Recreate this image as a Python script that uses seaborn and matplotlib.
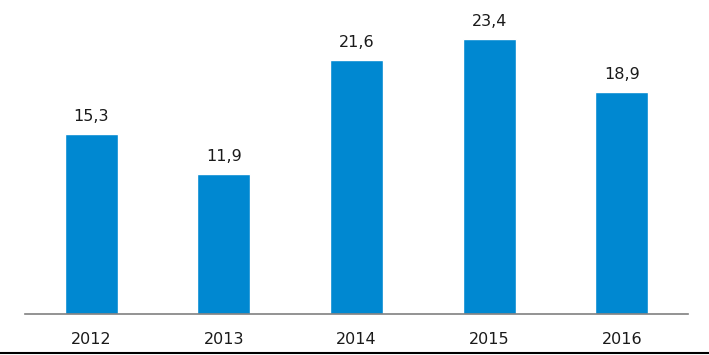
import matplotlib
matplotlib.use("Agg")
import matplotlib.pyplot as plt
import seaborn as sns
import pandas as pd
from matplotlib.lines import Line2D

years = ["2012", "2013", "2014", "2015", "2016"]
values = [15.3, 11.9, 21.6, 23.4, 18.9]
labels = ["15,3", "11,9", "21,6", "23,4", "18,9"]

df = pd.DataFrame({"year": years, "value": values})

sns.set_style("white")
plt.rcParams["font.family"] = ["DejaVu Sans"]

fig = plt.figure(figsize=(7.09, 3.55), dpi=100)
ax = fig.add_axes([25 / 709, 41 / 355, 663 / 709, 314 / 355])

sns.barplot(data=df, x="year", y="value", color="#0088D1", saturation=1,
            width=0.4, ax=ax)

ax.set_ylim(0, 26.7)
ax.set_xlim(-0.5, 4.5)
for bar, lab in zip(ax.patches, labels):
    ax.annotate(lab, (bar.get_x() + bar.get_width() / 2, bar.get_height()),
                xytext=(0, 7), textcoords="offset points",
                ha="center", va="bottom", fontsize=11.5, color="#1a1a1a")

ax.set_xlabel("")
ax.set_ylabel("")
ax.set_yticks([])
ax.tick_params(axis="x", length=0, labelsize=11.5, pad=13, colors="#1a1a1a")
for side in ["top", "right", "left"]:
    ax.spines[side].set_visible(False)
ax.spines["bottom"].set_color("#808080")
ax.spines["bottom"].set_linewidth(1.2)

# thin dark rule along the bottom edge of the figure
fig.add_artist(Line2D([0, 1], [2.5 / 355, 2.5 / 355], color="black",
                      linewidth=1.5, transform=fig.transFigure))

fig.savefig("out.png", dpi=100)
